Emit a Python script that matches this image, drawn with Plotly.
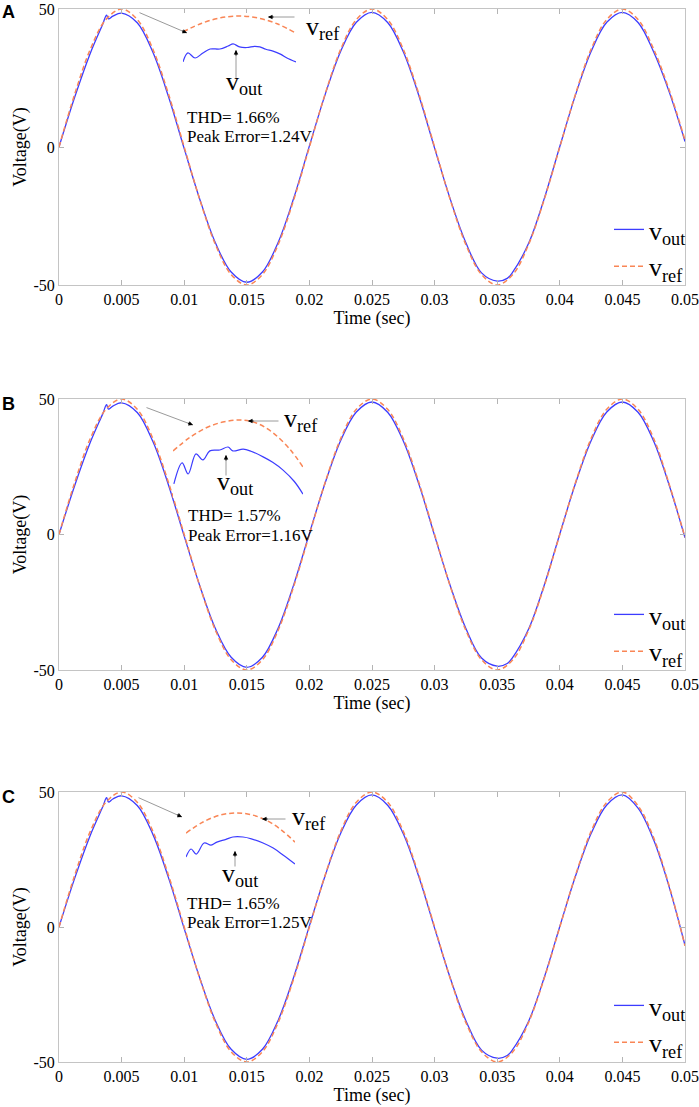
import plotly.graph_objects as go

# ---- data ----
t_ref = [0, 0.00125, 0.0025, 0.00375, 0.005, 0.00625, 0.0075, 0.00875, 0.01,
         0.01125, 0.0125, 0.01375, 0.015, 0.01625, 0.0175, 0.01875, 0.02,
         0.02125, 0.0225, 0.02375, 0.025, 0.02625, 0.0275, 0.02875, 0.03,
         0.03125, 0.0325, 0.03375, 0.035, 0.03625, 0.0375, 0.03875, 0.04,
         0.04125, 0.0425, 0.04375, 0.045, 0.04625, 0.0475, 0.04875, 0.05]

vref_a = [0, 19.1, 35.4, 46.2, 50, 46.2, 35.4, 19.1, 0,
          -19.1, -35.4, -46.2, -50, -46.2, -35.4, -19.1, 0,
          19.1, 35.4, 46.2, 50, 46.2, 35.4, 19.1, 0,
          -19.1, -35.4, -46.2, -50, -46.2, -35.4, -19.1, 0,
          19.1, 35.4, 46.2, 50, 46.2, 35.4, 20.5, 2.5]
vref_b = [0, 19.1, 35.4, 46.2, 50, 46.2, 35.4, 19.1, 0,
          -19.1, -35.4, -46.2, -50, -46.2, -35.4, -19.1, 0,
          19.1, 35.4, 46.2, 50, 46.2, 35.4, 19.1, 0,
          -19.1, -35.4, -46.2, -50, -46.2, -35.4, -19.1, 0,
          19.1, 35.4, 46.2, 50, 46.2, 35.4, 18.4, -1.0]
vref_c = [0, 19.1, 35.4, 46.2, 50, 46.2, 35.4, 19.1, 0,
          -19.1, -35.4, -46.2, -50, -46.2, -35.4, -19.1, 0,
          19.1, 35.4, 46.2, 50, 46.2, 35.4, 19.1, 0,
          -19.1, -35.4, -46.2, -50, -46.2, -35.4, -19.1, 0,
          19.1, 35.4, 46.2, 50, 44.9, 33.0, 15.0, -7.0]

t_out = [0, 0.00125, 0.0025, 0.0035, 0.0038, 0.00395, 0.0043, 0.005,
         0.00625, 0.0075, 0.00875, 0.01, 0.01125, 0.0125, 0.01375, 0.015,
         0.01625, 0.0175, 0.01875, 0.02, 0.02125, 0.0225, 0.02375, 0.025,
         0.02625, 0.0275, 0.02875, 0.03, 0.03125, 0.0325, 0.03375, 0.035,
         0.0358, 0.0362, 0.0375, 0.03875, 0.04, 0.04125, 0.0425, 0.04375,
         0.045, 0.04625, 0.0475, 0.04875, 0.05]

vout_a = [0, 18.0, 34.0, 44.6, 47.8, 46.4, 47.4, 48.5,
          45.0, 34.3, 18.2, -0.6, -19.0, -34.8, -45.3, -49.0,
          -45.3, -34.6, -18.5, 0.4, 18.9, 34.7, 45.2, 48.8,
          45.1, 34.5, 18.5, -0.4, -18.9, -34.7, -45.6, -48.6,
          -47.6, -45.6, -35.0, -18.8, 0.2, 18.8, 34.6, 45.2,
          48.8, 45.1, 34.4, 19.8, 2.0]
vout_b = [0, 18.0, 34.0, 44.6, 47.9, 46.3, 47.4, 48.6,
          45.0, 34.3, 18.2, -0.6, -19.0, -34.8, -45.3, -49.0,
          -45.3, -34.6, -18.5, 0.4, 18.9, 34.7, 45.2, 48.9,
          45.1, 34.5, 18.5, -0.4, -18.9, -34.7, -45.6, -48.6,
          -47.6, -45.6, -35.0, -18.8, 0.2, 18.8, 34.6, 45.2,
          48.9, 45.1, 34.4, 18.0, -1.2]
vout_c = [0, 18.0, 34.0, 44.6, 47.9, 46.3, 47.4, 48.6,
          45.0, 34.3, 18.2, -0.6, -19.0, -34.8, -45.3, -49.0,
          -45.3, -34.6, -18.5, 0.4, 18.9, 34.7, 45.2, 48.9,
          45.1, 34.5, 18.5, -0.4, -18.9, -34.7, -45.6, -48.6,
          -47.6, -45.6, -35.0, -18.8, 0.2, 18.8, 34.6, 45.2,
          48.9, 44.0, 32.2, 14.6, -6.8]

# zoomed peak views drawn inside each panel
zref_t_a = [0.0035, 0.004, 0.0045, 0.005, 0.0055, 0.006, 0.0065]
zref_v_a = [44.7, 47.6, 49.4, 50.0, 49.3, 47.4, 44.3]
zout_t_a = [0.0035, 0.00363, 0.00382, 0.00403, 0.00422, 0.00448, 0.0047, 0.00483,
            0.005, 0.0052, 0.0054, 0.00554, 0.0057, 0.00589, 0.0061, 0.00626, 0.0065]
zout_v_a = [34.7, 37.7, 36.0, 37.7, 39.0, 39.0, 40.0, 40.7,
            39.7, 39.5, 39.9, 39.7, 38.9, 38.3, 37.2, 36.0, 34.7]

zref_t_b = [0.0035, 0.00389, 0.00428, 0.00465, 0.00505, 0.00544, 0.00581, 0.0062, 0.0065]
zref_v_b = [39.7, 44.2, 47.5, 49.3, 50.0, 48.9, 45.7, 40.2, 34.3]
zout_t_b = [0.00352, 0.00371, 0.00385, 0.00403, 0.00419, 0.00435, 0.00458, 0.00477,
            0.00488, 0.00512, 0.0053, 0.00558, 0.0058, 0.00604, 0.0063, 0.0065]
zout_v_b = [28.7, 35.7, 32.0, 38.7, 36.7, 39.7, 40.0, 41.0,
            39.7, 40.3, 39.6, 37.7, 35.9, 33.3, 29.5, 25.3]

zref_t_c = [0.0035, 0.00397, 0.00444, 0.0049, 0.00537, 0.00584, 0.00617, 0.0065]
zref_v_c = [43.3, 47.0, 49.3, 50.0, 49.2, 46.7, 43.9, 40.3]
zout_t_c = [0.0035, 0.00364, 0.00378, 0.004, 0.00419, 0.00435, 0.0046, 0.00479,
            0.00507, 0.0053, 0.00562, 0.0059, 0.00617, 0.0065]
zout_v_c = [35.3, 38.0, 36.3, 40.0, 39.3, 40.3, 41.2, 42.0,
            42.0, 41.4, 40.0, 38.3, 36.0, 33.0]

panel_labels = ["A", "B", "C"]
thd_text = ["THD= 1.66%", "THD= 1.57%", "THD= 1.65%"]
peak_text = ["Peak Error=1.24V", "Peak Error=1.16V", "Peak Error=1.25V"]

x_ticks = [0, 0.005, 0.01, 0.015, 0.02, 0.025, 0.03, 0.035, 0.04, 0.045, 0.05]
x_ticktext = ["0", "0.005", "0.01", "0.015", "0.02", "0.025", "0.03",
              "0.035", "0.04", "0.045", "0.05"]
y_ticks = [-50, 0, 50]
y_ticktext = ["-50", "0", "50"]

# ---- layout helpers (page pixel -> paper fraction) ----
W, H = 699, 1107
SERIF = "Liberation Serif"
BLUE = "#3c3cff"
ORANGE = "#f98656"


def fx(px):
    return px / W


def fy(py):
    return 1 - py / H


# main plot boxes (top, bottom) in pixels
panel_rows = [(9, 285), (399, 670), (792, 1062)]
plot_left, plot_right = 59, 685
# inset boxes: (left, right, top, bottom, y_lo, y_hi)
inset_boxes = [(183, 296, 13, 67, 33, 51),
               (173, 303, 417, 498, 24, 51),
               (186, 295, 810, 867, 32, 51)]
# arrows (tail -> head)
arrow_sets = [
    [((138, 12), (187, 33)), ((296, 17), (268, 17)), ((236, 80), (236, 50))],
    [((145, 407), (193, 425)), ((280, 421), (248, 421)), ((226, 477), (226, 455))],
    [((137, 797), (182, 817)), ((287, 819), (262, 819)), ((235, 868), (235, 851))],
]
ref_label_pos = [(304, 10), (282, 402), (290, 800)]
out_label_pos = [(224, 65), (215, 465), (220, 857)]
thd_pos = [(185, 117, 136), (186, 515, 535), (185, 903, 923)]
legend_pos = [(609, 206), (609, 591), (609, 982)]
letter_y = [12, 404, 797]

main_data = [(vout_a, vref_a), (vout_b, vref_b), (vout_c, vref_c)]
zoom_data = [(zout_t_a, zout_v_a, zref_t_a, zref_v_a),
             (zout_t_b, zout_v_b, zref_t_b, zref_v_b),
             (zout_t_c, zout_v_c, zref_t_c, zref_v_c)]

fig = go.Figure()
layout = {}
annotations = []

for i in range(3):
    n = i + 1
    xa = "x" if n == 1 else f"x{n}"
    ya = "y" if n == 1 else f"y{n}"
    leg = "legend" if n == 1 else f"legend{n}"
    vout, vref = main_data[i]

    fig.add_trace(go.Scatter(
        x=t_out, y=vout, mode="lines", name="v<sub>out</sub>",
        line=dict(color=BLUE, width=1.3, shape="spline"),
        xaxis=xa, yaxis=ya, legend=leg))
    fig.add_trace(go.Scatter(
        x=t_ref, y=vref, mode="lines", name="v<sub>ref</sub>",
        line=dict(color=ORANGE, width=1.5, dash="5px,3px", shape="spline"),
        xaxis=xa, yaxis=ya, legend=leg))

    top, bottom = panel_rows[i]
    axis_common = dict(showline=True, linecolor="#c4c4c4", linewidth=1,
                       mirror="ticks", ticks="inside", ticklen=5,
                       tickcolor="#b4b4b4", showgrid=False, zeroline=False,
                       tickfont=dict(family=SERIF, size=16, color="black"))
    layout["xaxis" if n == 1 else f"xaxis{n}"] = dict(
        domain=[fx(plot_left), fx(plot_right)], anchor=ya, range=[0, 0.05],
        tickvals=x_ticks, ticktext=x_ticktext,
        title=dict(text="Time (sec)", standoff=3,
                   font=dict(family=SERIF, size=18, color="black")),
        **axis_common)
    layout["yaxis" if n == 1 else f"yaxis{n}"] = dict(
        domain=[fy(bottom), fy(top)], anchor=xa, range=[-50, 50],
        tickvals=y_ticks, ticktext=y_ticktext,
        title=dict(text="Voltage(V)", standoff=2,
                   font=dict(family=SERIF, size=18, color="black")),
        **axis_common)

    lx, ly = legend_pos[i]
    layout[leg] = dict(x=fx(lx), y=fy(ly), xanchor="left", yanchor="top",
                       bgcolor="rgba(0,0,0,0)", tracegroupgap=0,
                       font=dict(family=SERIF, size=26, color="black"))

    # inset with the zoomed peak
    m = n + 3
    zl, zr, zt, zb, ylo, yhi = inset_boxes[i]
    zt_out, zv_out, zt_ref, zv_ref = zoom_data[i]
    fig.add_trace(go.Scatter(
        x=zt_out, y=zv_out, mode="lines", showlegend=False,
        line=dict(color=BLUE, width=1.2, shape="spline"),
        xaxis=f"x{m}", yaxis=f"y{m}"))
    fig.add_trace(go.Scatter(
        x=zt_ref, y=zv_ref, mode="lines", showlegend=False,
        line=dict(color=ORANGE, width=1.5, dash="5px,3px", shape="spline"),
        xaxis=f"x{m}", yaxis=f"y{m}"))
    layout[f"xaxis{m}"] = dict(domain=[fx(zl), fx(zr)], anchor=f"y{m}",
                               range=[0.0035, 0.0065], visible=False)
    layout[f"yaxis{m}"] = dict(domain=[fy(zb), fy(zt)], anchor=f"x{m}",
                               range=[ylo, yhi], visible=False)

    # arrows: grey shaft + small black head
    for (tx, ty), (hx, hy) in arrow_sets[i]:
        dx, dy = tx - hx, ty - hy
        annotations.append(dict(
            x=fx(hx), y=fy(hy), xref="paper", yref="paper",
            ax=dx, ay=dy, showarrow=True, arrowhead=0,
            arrowwidth=1, arrowcolor="#9a9a9a", text=""))
        d = (dx ** 2 + dy ** 2) ** 0.5
        annotations.append(dict(
            x=fx(hx), y=fy(hy), xref="paper", yref="paper",
            ax=dx / d * 7, ay=dy / d * 7, showarrow=True, arrowhead=2,
            arrowsize=0.9, arrowwidth=1, arrowcolor="black", text=""))

    rx, ry = ref_label_pos[i]
    annotations.append(dict(
        x=fx(rx), y=fy(ry), xref="paper", yref="paper", showarrow=False,
        xanchor="left", yanchor="top", text="v<sub>ref</sub>",
        font=dict(family=SERIF, size=26, color="black")))
    ox, oy = out_label_pos[i]
    annotations.append(dict(
        x=fx(ox), y=fy(oy), xref="paper", yref="paper", showarrow=False,
        xanchor="left", yanchor="top", text="v<sub>out</sub>",
        font=dict(family=SERIF, size=26, color="black")))

    tx, t1, t2 = thd_pos[i]
    for txt, yy in ((thd_text[i], t1), (peak_text[i], t2)):
        annotations.append(dict(
            x=fx(tx), y=fy(yy), xref="paper", yref="paper", showarrow=False,
            xanchor="left", yanchor="middle", text=txt,
            font=dict(family=SERIF, size=17, color="black")))

    annotations.append(dict(
        x=0, y=fy(letter_y[i]), xref="paper", yref="paper", showarrow=False,
        xanchor="left", yanchor="middle", text=f"<b>{panel_labels[i]}</b>",
        font=dict(family="Liberation Sans", size=18, color="black")))

fig.update_layout(
    width=W, height=H, autosize=False,
    margin=dict(l=0, r=0, t=0, b=0, autoexpand=False),
    paper_bgcolor="white", plot_bgcolor="white",
    annotations=annotations,
    **layout)

# no modebar, and no browser body margin, so the figure sits at the page corner
fig.write_html("out.html", config={"displayModeBar": False},
               post_script="document.body.style.margin='0';"
                           "document.body.style.overflow='hidden';")
